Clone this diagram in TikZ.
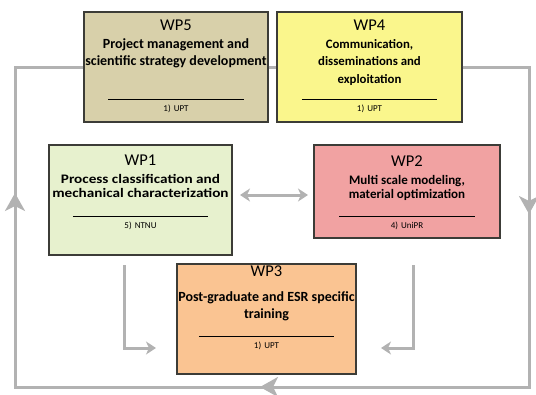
\documentclass[tikz,border=0pt]{standalone}
\usepackage{fontspec}
\setmainfont{Carlito}
\newfontfamily\wpwide[FakeStretch=1.17]{Carlito}
\usetikzlibrary{arrows.meta}
\definecolor{wpfive}{RGB}{216,208,170}
\definecolor{wpfour}{RGB}{250,246,140}
\definecolor{wpone}{RGB}{231,241,206}
\definecolor{wptwo}{RGB}{241,162,162}
\definecolor{wpthree}{RGB}{250,196,146}
\definecolor{linkgray}{RGB}{178,178,178}
\definecolor{boxedge}{RGB}{60,60,55}
\tikzset{
  wpbox/.style = {draw=boxedge, line width=1.2pt, inner sep=0pt},
  wptitle/.style = {font=\fontsize{16.5}{20}\selectfont, inner sep=0pt},
  wpdesc/.style 2 args = {font=\bfseries\fontsize{#1}{#2}\selectfont, align=center, inner sep=0pt},
  wplead/.style = {font=\fontsize{9}{10}\selectfont, anchor=north, text width=135pt, align=center,
                   inner xsep=0pt, inner ysep=6pt, text height=6pt, text depth=1.5pt},
  wprule/.style = {line width=0.6pt, black},
  loopline/.style = {draw=linkgray, line width=3pt},
  chevron/.style = {draw=linkgray, line width=3pt, -{Stealth[length=18pt, width=20pt, inset=5pt]}},
  link/.style = {draw=linkgray, line width=3pt, -{Stealth[length=10pt, width=13pt, inset=3pt]}},
  dlink/.style = {draw=linkgray, line width=3pt, {Stealth[length=10pt, width=13pt, inset=3pt]}-{Stealth[length=10pt, width=13pt, inset=3pt]}}
}

\begin{document}
\begin{tikzpicture}[x=1pt, y=-1pt]
\useasboundingbox (0,0) rectangle (536,394);
% work package boxes
\node[wpbox, fill=wpfive, minimum width=184pt, minimum height=110pt] (wp5) at (176,67) {};
\node[wpbox, fill=wpfour, minimum width=185pt, minimum height=110pt] (wp4) at (369.5,67) {};
\node[wpbox, fill=wpone, minimum width=183pt, minimum height=110pt] (wp1) at (140.5,200) {};
\node[wpbox, fill=wptwo, minimum width=186pt, minimum height=93pt] (wp2) at (407,191.5) {};
\node[wpbox, fill=wpthree, minimum width=179pt, minimum height=110pt] (wp3) at (266.5,319) {};
% texts
\node[wptitle] (wp5t) at ([yshift=-14pt]wp5.north) {WP5};
\node[wpdesc={14}{17}] (wp5d) at ([yshift=-41.5pt]wp5.north) {Project management and\\scientific strategy development};
\node[wplead] (wp5l) at ([yshift=-88pt]wp5.north) {1) UPT};
\node[wptitle] (wp4t) at ([yshift=-14pt]wp4.north) {WP4};
\node[wpdesc={12.8}{17.5}] (wp4d) at ([yshift=-51pt]wp4.north) {Communication,\\disseminations and\\exploitation};
\node[wplead] (wp4l) at ([yshift=-88pt]wp4.north) {1) UPT};
\node[wptitle] (wp1t) at ([yshift=-16pt]wp1.north) {WP1};
\node[wpdesc={13}{14}, font=\wpwide\bfseries\fontsize{13}{14}\selectfont] (wp1d) at ([yshift=-42pt]wp1.north) {Process classification and\\mechanical characterization};
\node[wplead] (wp1l) at ([yshift=-72pt]wp1.north) {5) NTNU};
\node[wptitle] (wp2t) at ([yshift=-17pt]wp2.north) {WP2};
\node[wpdesc={13}{13.5}] (wp2d) at ([yshift=-43.5pt]wp2.north) {Multi scale modeling,\\material optimization};
\node[wplead] (wp2l) at ([yshift=-72pt]wp2.north) {4) UniPR};
\node[wptitle] (wp3t) at ([yshift=-8pt]wp3.north) {WP3};
\node[wpdesc={14}{17}] (wp3d) at ([yshift=-42.5pt]wp3.north) {Post-graduate and ESR specific\\training};
\node[wplead] (wp3l) at ([yshift=-73pt]wp3.north) {1) UPT};
\foreach \w in {wp5l, wp4l, wp1l, wp2l, wp3l}
  \draw[wprule] (\w.north west) -- (\w.north east);
% outer loop
\coordinate (lt) at (15,67);
\coordinate (lb) at (15,387);
\coordinate (rb) at (529,387);
\coordinate (rt) at (529,67);
\coordinate (lm) at (15,193);
\coordinate (rm) at (529,214);
\coordinate (bm) at (260,387);
\draw[loopline] (wp5.east) -- (wp4.west);
\draw[loopline, line join=miter] (wp4.east) -- (rt) -- (rb) -- (lb) -- (lt) -- (wp5.west);
\draw[chevron] (rt) -- (rm);
\draw[chevron] (rb) -- (bm);
\draw[chevron] (lb) -- (lm);
% links between packages
\coordinate (wp1r) at (240,195);
\coordinate (wp2l) at (308,195);
\coordinate (wp1o) at (124,265);
\coordinate (wp3a) at (156,348);
\coordinate (wp2o) at (413,265);
\coordinate (wp3b) at (381,348);
\draw[dlink] (wp1r) -- (wp2l);
\draw[link] (wp1o) |- (wp3a);
\draw[link] (wp2o) |- (wp3b);
\end{tikzpicture}
\end{document}
